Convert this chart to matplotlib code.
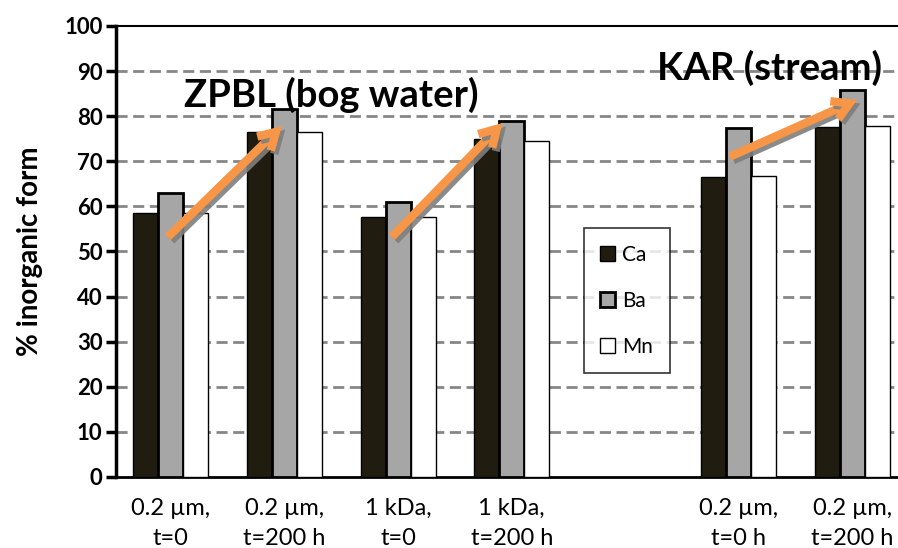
import numpy as np
import matplotlib
matplotlib.use("Agg")
import matplotlib.pyplot as plt
import matplotlib.patheffects as pe

plt.rcParams['font.family'] = ['Lato', 'DejaVu Sans']

# data (empty slot between the two sites)
categories = ["0.2 µm,\nt=0", "0.2 µm,\nt=200 h", "1 kDa,\nt=0", "1 kDa,\nt=200 h",
              "", "0.2 µm,\nt=0 h", "0.2 µm,\nt=200 h"]
ca = [58.6, 76.6, 57.7, 75.0, np.nan, 66.6, 77.7]
ba = [63.0, 81.5, 61.0, 78.9, np.nan, 77.3, 85.8]
mn = [58.6, 76.5, 57.7, 74.5, np.nan, 66.8, 77.9]

fig = plt.figure(figsize=(8.98, 5.48), dpi=100)
ax = fig.add_axes([0.129, 0.1296, 0.871, 0.823])

x = np.arange(len(categories))
w = 0.22
ax.bar(x - w, ca, w, color='#201c10', edgecolor='black', linewidth=1, label='Ca', zorder=3)
ax.bar(x, ba, w, color='#a6a6a6', edgecolor='black', linewidth=2, label='Ba', zorder=3)
ax.bar(x + w, mn, w, color='white', edgecolor='black', linewidth=1, label='Mn', zorder=3)

ax.set_ylim(0, 100)
ax.set_xlim(-0.484, 6.40)
ax.set_yticks(range(0, 101, 10))
ax.set_xticks(x)
ax.set_xticklabels(categories, fontsize=17, linespacing=1.55)
ax.tick_params(axis='x', length=0, pad=15)
ax.tick_params(axis='y', length=7.5, width=2.5, labelsize=16, pad=2)
for t in ax.get_yticklabels():
    t.set_fontweight('bold')

for v in range(10, 100, 10):
    ax.axhline(v, color='#868686', lw=2, ls=(0, (4, 2)), zorder=1)

ax.spines['left'].set_linewidth(2.5)
ax.spines['bottom'].set_linewidth(2)
ax.spines['top'].set_linewidth(1.5)
ax.spines['right'].set_visible(False)

ax.set_ylabel('% inorganic form', fontsize=20, fontweight='bold', labelpad=15)

leg = ax.legend(loc='upper left', bbox_to_anchor=(0.598, 0.552), fontsize=15,
                frameon=True, fancybox=False, edgecolor='black', handlelength=0.7,
                handleheight=0.7, labelspacing=1.25, borderpad=0.8, handletextpad=0.35,
                borderaxespad=0)
leg.get_frame().set_linewidth(1.2)
leg.set_zorder(5)

ax.text(1.41, 84.7, 'ZPBL (bog water)', fontsize=27.5, fontweight='bold', ha='center', va='center', zorder=6)
ax.text(5.27, 90.7, 'KAR (stream)', fontsize=27.5, fontweight='bold', ha='center', va='center', zorder=6)

shadow = [pe.SimpleLineShadow(offset=(2.5, -2.5), shadow_color='#7f7f7f', alpha=0.9), pe.Normal()]
arrows = [((-0.026, 53.2), (0.977, 77.8)),
          ((1.945, 53.2), (2.92, 78.5)),
          ((4.92, 71.0), (6.04, 83.6))]
for tail, tip in arrows:
    a = ax.annotate('', xy=tip, xytext=tail, zorder=7,
                    arrowprops=dict(arrowstyle='->,head_length=1.2,head_width=0.7',
                                    color='#f79646', lw=6, shrinkA=0, shrinkB=0,
                                    capstyle='butt', joinstyle='miter'))
    a.arrow_patch.set_path_effects(shadow)

fig.savefig('out.png', dpi=100)
